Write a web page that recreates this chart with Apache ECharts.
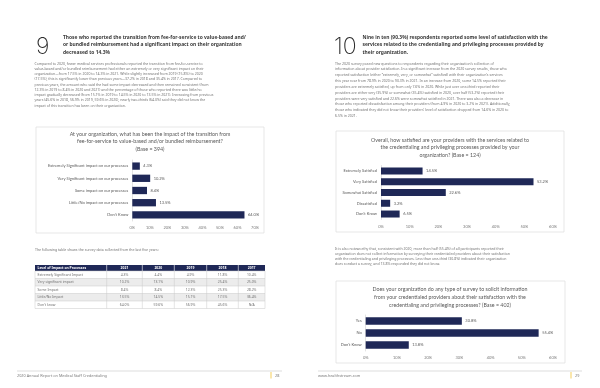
<!DOCTYPE html>
<html><head><meta charset="utf-8">
<script src="https://cdn.jsdelivr.net/npm/echarts@6/dist/echarts.min.js"></script>
<style>html,body{margin:0;padding:0;background:#fff}#c{width:600px;height:388px}</style>
</head><body><div id="c"></div>
<script>
// ---- data ----
const impactCategories = ['Extremely Significant impact on our processes','Very Significant impact on our processes','Some impact on our processes','Little/No impact on our processes',"Don't Know"];
const impactValues = [4.3, 10.2, 8.4, 13.5, 64.0];
const satisfactionCategories = ['Extremely Satisfied','Very Satisfied','Somewhat Satisfied','Dissatisfied',"Don't Know"];
const satisfactionValues = [14.5, 53.2, 22.6, 3.2, 6.5];
const surveyCategories = ['Yes','No',"Don't Know"];
const surveyValues = [30.8, 55.4, 13.8];
const tableHeader = ['Level of Impact on Processes','2021','2020','2019','2018','2017'];
const tableRowLabels = ['Extremely Significant Impact','Very significant impact','Some Impact','Little/No Impact',"Don't know"];
const tableValues = [
  ['4.3%','4.4%','4.9%','11.8%','10.4%'],
  ['10.2%','13.1%','10.9%','25.4%','25.0%'],
  ['8.4%','8.4%','12.3%','25.3%','28.2%'],
  ['13.5%','14.5%','15.1%','17.5%','36.4%'],
  ['64.0%','59.6%','56.9%','45.6%','N/A']
];

// ---- styles ----
const NAVY = '#1f2857';
const CHART_FONT = 'Lato';
const BODY_FONT = 'Noto Sans';
const g = [];
function txt(x, y, text, o) {
  o = o || {};
  g.push({type:'text', x:x, y:y, silent:true, style:{
    text:text, fill:o.fill||'#727272', fontSize:o.size||4, fontFamily:o.family||BODY_FONT,
    fontWeight:o.weight||'normal', textAlign:o.align||'left', textVerticalAlign:'middle',
    lineHeight:o.lh||undefined }});
}
function rect(x, y, w, h, fill, stroke) {
  g.push({type:'rect', silent:true, shape:{x:x,y:y,width:w,height:h}, style:{fill:fill||'none', stroke:stroke||null, lineWidth:stroke?0.6:0}});
}
function line(x1,y1,x2,y2,stroke,w){
  g.push({type:'line', silent:true, shape:{x1:x1,y1:y1,x2:x2,y2:y2}, style:{stroke:stroke, lineWidth:w||0.6}});
}

// big numbers + headings
txt(36, 47, '9', {size:23, fill:'#2b2b2b', family:'Inter', weight:200});
txt(334, 47, '10', {size:23, fill:'#2b2b2b', family:'Inter', weight:200});
const h1 = ['Those who reported the transition from fee-for-service to value-based and/','or bundled reimbursement had a significant impact on their organization','decreased to 14.3%'];
const h2 = ['Nine in ten (90.3%) respondents reported some level of satisfaction with the','services related to the credentialing and privileging processes provided by','their organization.'];
h1.forEach((t,i)=>txt(63, 37.5+i*7.6, t, {size:4.9, weight:'bold', fill:'#3a3a3a'}));
h2.forEach((t,i)=>txt(362.5, 37.5+i*7.6, t, {size:4.9, weight:'bold', fill:'#3a3a3a'}));

const p1 = ['Compared to 2020, fewer medical services professionals reported the transition from fee-for-service to',
'value-based and/or bundled reimbursement had either an extremely or very significant impact on their',
'organization\u2014from 17.5% in 2020 to 14.3% in 2021. While slightly increased from 2019 (15.8%) to 2020',
'(17.5%), this is significantly lower than previous years\u201437.2% in 2018 and 35.4% in 2017. Compared to',
'previous years, the amount who said the had some impact decreased and then remained consistent (from',
'12.3% in 2019 to 8.4% in 2020 and 2021) and the percentage of those who reported there was little/no',
'impact gradually decreased (from 15.1% in 2019 to 14.5% in 2020 to 13.5% in 2021). Increasing from previous',
'years (45.6% in 2018, 56.9% in 2019, 59.6% in 2020), nearly two-thirds (64.0%) said they did not know the',
'impact of this transition has been on their organization.'];
p1.forEach((t,i)=>txt(34.5, 63.5+i*5.25, t, {size:3.5}));
const p2 = ['The 2020 survey posed new questions to respondents regarding their organization\u2019s collection of',
'information about provider satisfaction. In a significant increase from the 2020 survey results, those who',
'reported satisfaction (either \u201Cextremely, very, or somewhat\u201D satisfied) with their organization\u2019s services',
'this year rose from 78.9% in 2020 to 90.3% in 2021. In an increase from 2020, some 14.5% reported their',
'providers are extremely satisfied, up from only 7.6% in 2020. While just over one-third reported their',
'providers are either very (35.9%) or somewhat (35.4%) satisfied in 2020, over half (53.2%) reported their',
'providers were very satisfied and 22.6% were somewhat satisfied in 2021. There was also a decrease in',
'those who reported dissatisfaction among their providers (from 4.9% in 2020 to 3.2% in 2021). Additionally,',
'those who indicated they did not know their providers\u2019 level of satisfaction dropped from 14.6% in 2020 to',
'6.5% in 2021.'];
p2.forEach((t,i)=>txt(335, 63.5+i*5.85, t, {size:3.5}));

txt(35, 249.5, 'The following table shows the survey data collected from the last five years:', {size:3.5});
const p3 = ['It is also noteworthy that, consistent with 2020, more than half (55.4%) of all participants reported their',
'organization does not collect information by surveying their credentialed providers about their satisfaction',
'with the credentialing and privileging processes. Less than one-third (30.8%) indicated their organization',
'does conduct a survey, and 13.8% responded they did not know.'];
p3.forEach((t,i)=>txt(335, 248.5+i*5.2, t, {size:3.5}));

// chart boxes + titles
rect(36, 127, 228, 106, null, '#d6d6d6');
rect(336, 131, 228, 101, null, '#d6d6d6');
rect(336, 281, 229, 82, null, '#d6d6d6');
const t1 = ['At your organization, what has been the impact of the transition from','fee-for-service to value-based and/or bundled reimbursement?','(Base = 394)'];
const t2 = ['Overall, how satisfied are your providers with the services related to','the credentialing and privileging processes provided by your','organization? (Base = 124)'];
const t3 = ['Does your organization do any type of survey to solicit information','from your credentialed providers about their satisfaction with the','credentialing and privileging processes? (Base = 402)'];
t1.forEach((t,i)=>txt(150, 134+i*7.6, t, {size:5.3, family:CHART_FONT, align:'center', fill:'#595959'}));
t2.forEach((t,i)=>txt(450, 140+i*7.5, t, {size:5.3, family:CHART_FONT, align:'center', fill:'#595959'}));
t3.forEach((t,i)=>txt(450, 289+i*8, t, {size:5.3, family:CHART_FONT, align:'center', fill:'#595959'}));

// table
const colX = [35, 106.7, 142.3, 174.3, 206.7, 238.3, 265];
const hdrTop = 265, hdrH = 6, rowH = 7.5;
rect(colX[0], hdrTop, colX[6]-colX[0], hdrH, NAVY);
tableHeader.forEach((h,j)=>{
  if (j===0) txt(colX[0]+2.5, hdrTop+hdrH/2, h, {size:3.4, weight:'bold', fill:'#fff'});
  else txt((colX[j]+colX[j+1])/2, hdrTop+hdrH/2, h, {size:3.4, weight:'bold', fill:'#fff', align:'center'});
});
for (let j=1;j<6;j++) line(colX[j], hdrTop, colX[j], hdrTop+hdrH, '#ffffff', 0.6);
tableRowLabels.forEach((lab,i)=>{
  const y = hdrTop+hdrH+i*rowH;
  rect(colX[0], y, colX[6]-colX[0], rowH, i%2===1 ? '#ececec' : '#ffffff');
  txt(colX[0]+2.5, y+rowH/2, lab, {size:3.4, fill:'#707070'});
  tableValues[i].forEach((v,j)=>txt((colX[j+1]+colX[j+2])/2, y+rowH/2, v, {size:3.4, fill:'#707070', align:'center'}));
});
const tb = hdrTop+hdrH+5*rowH;
for (let i=0;i<=5;i++) line(colX[0], hdrTop+hdrH+i*rowH, colX[6], hdrTop+hdrH+i*rowH, '#c8c8c8', 0.5);
for (let j=0;j<=6;j++) line(colX[j], hdrTop+hdrH, colX[j], tb, '#c8c8c8', 0.5);

// footers
line(17, 371, 282, 371, '#c8c8c8', 0.6);
line(318, 371, 582, 371, '#c8c8c8', 0.6);
txt(17, 375.5, '2020 Annual Report on Medical Staff Credentialing', {size:3.8, fill:'#7a7a7a'});
txt(318, 375.5, 'www.healthstream.com', {size:3.8, fill:'#7a7a7a'});
line(271, 372, 271, 378.5, '#f2c230', 0.8);
line(571, 372, 571, 378.5, '#f2c230', 0.8);
txt(275, 375.5, '28', {size:3.8, fill:'#7a7a7a'});
txt(575, 375.5, '29', {size:3.8, fill:'#7a7a7a'});

// ---- charts ----
function grid(left, right, top, height){
  return {left:left, right:right, top:top, height:height, containLabel:false, outerBoundsMode:'none'};
}
function xAx(i, max){
  return {type:'value', gridIndex:i, min:0, max:max, interval:10, splitLine:{show:false},
    axisLine:{show:false}, axisTick:{show:false},
    axisLabel:{formatter:'{value}%', fontSize:4, color:'#7a7a7a', fontFamily:CHART_FONT, margin:5}};
}
function yAx(i, cats, margin){
  return {type:'category', gridIndex:i, data:cats, inverse:true,
    axisLine:{show:true, lineStyle:{color:'#d0d0d0', width:0.6}}, axisTick:{show:false},
    axisLabel:{interval:0, fontSize:4, color:'#595959', fontFamily:CHART_FONT, margin:margin}};
}
function ser(i, vals, gap){
  return {type:'bar', xAxisIndex:i, yAxisIndex:i, data:vals, barCategoryGap:gap,
    itemStyle:{color:NAVY}, silent:true,
    label:{show:true, position:'right', distance:3.5, fontSize:4, color:'#595959', fontFamily:CHART_FONT,
      formatter: p => p.value.toFixed(1)+'%'}};
}
const chart = echarts.init(document.getElementById('c'), null, {renderer:'canvas'});
chart.setOption({
  animation:false,
  grid:[grid(132.3, 345, 160, 61), grid(381, 47, 165.6, 53.8), grid(365.7, 47, 315, 36)],
  xAxis:[xAx(0,70), xAx(1,60), xAx(2,60)],
  yAxis:[yAx(0, impactCategories, 4), yAx(1, satisfactionCategories, 4), yAx(2, surveyCategories, 4)],
  series:[ser(0, impactValues, '40%'), ser(1, satisfactionValues, '35%'), ser(2, surveyValues, '36%')],
  graphic:{elements:g}
});
</script></body></html>
